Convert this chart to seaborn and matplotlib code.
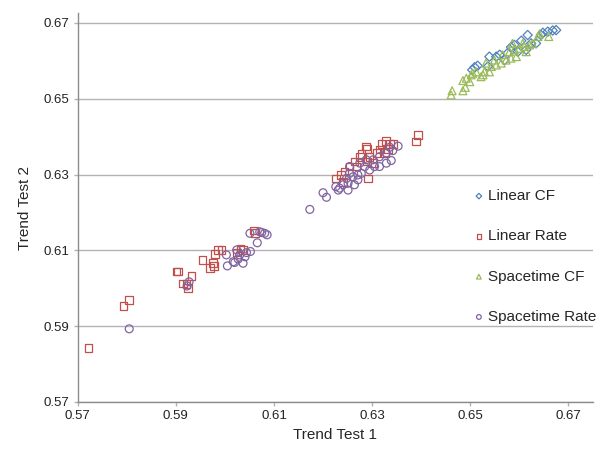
import pandas as pd
import seaborn as sns
import matplotlib.pyplot as plt

# Linear CF (diamonds)
linear_cf_x = [0.6675, 0.6668, 0.6658, 0.6648, 0.6644, 0.6617, 0.6604, 0.6590, 0.6583, 0.6634,
               0.6624, 0.6576, 0.6570, 0.6560, 0.6553, 0.6539, 0.6536, 0.6515, 0.6509, 0.6504,
               0.6597, 0.6614]
linear_cf_y = [0.6681, 0.6680, 0.6677, 0.6674, 0.6668, 0.6668, 0.6653, 0.6642, 0.6636, 0.6646,
               0.6646, 0.6620, 0.6602, 0.6616, 0.6611, 0.6611, 0.6585, 0.6587, 0.6583, 0.6576,
               0.6624, 0.6629]

# Linear Rate (squares)
linear_rate_x = [0.5722, 0.5793, 0.5804, 0.5901, 0.5905, 0.5932, 0.5914, 0.5922, 0.5925,
                 0.5954, 0.5980, 0.5986, 0.5993, 0.5976, 0.5978, 0.5969, 0.6032, 0.6037, 0.6025,
                 0.6059, 0.6061,
                 0.6393, 0.6389, 0.6328, 0.6336, 0.6342, 0.6319, 0.6288, 0.6290, 0.6315, 0.6309,
                 0.6278, 0.6275, 0.6264, 0.6290, 0.6295, 0.6302, 0.6254, 0.6244, 0.6237, 0.6227,
                 0.6292, 0.6241, 0.6268, 0.6326, 0.6332]
linear_rate_y = [0.5842, 0.5953, 0.5969, 0.6044, 0.6044, 0.6032, 0.6013, 0.6011, 0.6000,
                 0.6075, 0.6090, 0.6101, 0.6101, 0.6066, 0.6059, 0.6053, 0.6105, 0.6101, 0.6094,
                 0.6152, 0.6145,
                 0.6405, 0.6387, 0.6389, 0.6381, 0.6381, 0.6381, 0.6374, 0.6367, 0.6366, 0.6357,
                 0.6354, 0.6347, 0.6334, 0.6334, 0.6347, 0.6330, 0.6321, 0.6308, 0.6299, 0.6290,
                 0.6290, 0.6281, 0.6321, 0.6357, 0.6367]

# Spacetime CF (triangles)
spacetime_cf_x = [0.6461, 0.6463, 0.6485, 0.6490, 0.6485, 0.6492, 0.6502, 0.6505, 0.6512, 0.6522,
                  0.6526, 0.6529, 0.6539, 0.6543, 0.6553, 0.6563, 0.6573, 0.6566, 0.6583, 0.6594,
                  0.6580, 0.6590, 0.6600, 0.6610, 0.6614, 0.6621, 0.6627, 0.6638, 0.6641, 0.6660,
                  0.6499, 0.6532, 0.6549, 0.6586, 0.6607]
spacetime_cf_y = [0.6510, 0.6521, 0.6521, 0.6530, 0.6548, 0.6554, 0.6563, 0.6567, 0.6571, 0.6558,
                  0.6563, 0.6571, 0.6571, 0.6585, 0.6589, 0.6594, 0.6602, 0.6616, 0.6607, 0.6611,
                  0.6624, 0.6629, 0.6633, 0.6638, 0.6624, 0.6642, 0.6646, 0.6664, 0.6671, 0.6664,
                  0.6545, 0.6594, 0.6602, 0.6646, 0.6646]

# Spacetime Rate (circles)
spacetime_rate_x = [0.5805, 0.5927, 0.5923,
                    0.6003, 0.6005, 0.6020, 0.6027, 0.6030, 0.6041, 0.6044, 0.6052, 0.6051, 0.6066,
                    0.6075, 0.6081, 0.6086, 0.6071, 0.6024, 0.6037, 0.6017, 0.6173, 0.6200, 0.6207,
                    0.6353, 0.6339, 0.6342, 0.6329, 0.6315, 0.6302, 0.6305, 0.6295, 0.6285, 0.6278,
                    0.6271, 0.6261, 0.6254, 0.6248, 0.6251, 0.6241, 0.6234, 0.6226, 0.6264, 0.6271,
                    0.6254, 0.6288, 0.6315, 0.6329, 0.6336, 0.6251, 0.6231, 0.6275]
spacetime_rate_y = [0.5893, 0.6017, 0.6006,
                    0.6088, 0.6059, 0.6068, 0.6077, 0.6088, 0.6083, 0.6094, 0.6097, 0.6145, 0.6120,
                    0.6147, 0.6145, 0.6141, 0.6149, 0.6101, 0.6066, 0.6070, 0.6208, 0.6252, 0.6240,
                    0.6375, 0.6337, 0.6363, 0.6357, 0.6347, 0.6339, 0.6321, 0.6312, 0.6321, 0.6303,
                    0.6299, 0.6294, 0.6303, 0.6290, 0.6277, 0.6273, 0.6264, 0.6268, 0.6273, 0.6286,
                    0.6321, 0.6339, 0.6321, 0.6330, 0.6372, 0.6259, 0.6259, 0.6330]

series = [
    ("Linear CF", linear_cf_x, linear_cf_y, "D", "#4f81bd", 22),
    ("Linear Rate", linear_rate_x, linear_rate_y, "s", "#c0504d", 30),
    ("Spacetime CF", spacetime_cf_x, spacetime_cf_y, "^", "#9bbb59", 32),
    ("Spacetime Rate", spacetime_rate_x, spacetime_rate_y, "o", "#8064a2", 32),
]

sns.set_style("white")
plt.rcParams['font.family'] = ['Liberation Sans', 'DejaVu Sans']

fig = plt.figure(figsize=(6.1, 4.5), dpi=100)
ax = fig.add_axes([0.1274, 0.1067, 0.8446, 0.8643])

for name, xs, ys, marker, color, size in series:
    df = pd.DataFrame({"x": xs, "y": ys})
    sns.scatterplot(data=df, x="x", y="y", ax=ax, marker=marker, s=size,
                    facecolor="none", edgecolor=color, linewidth=0.9, label=name)

ax.set_xlim(0.57, 0.675)
ax.set_ylim(0.57, 0.6726)
ticks = [0.57, 0.59, 0.61, 0.63, 0.65, 0.67]
ax.set_xticks(ticks)
ax.set_yticks(ticks)
ax.set_xticklabels([f"{t:.2f}" for t in ticks])
ax.set_yticklabels([f"{t:.2f}" for t in ticks])
ax.yaxis.grid(True, color="#b3b3b3", linewidth=1)
ax.xaxis.grid(False)
ax.set_axisbelow(True)
for side in ["top", "right"]:
    ax.spines[side].set_visible(False)
for side in ["left", "bottom"]:
    ax.spines[side].set_color("#8c8c8c")
    ax.spines[side].set_linewidth(1)
ax.tick_params(axis="both", length=3, width=1, color="#b3b3b3", labelsize=9.5,
               labelcolor="#222222", pad=3, direction="out", bottom=True, left=True)
ax.set_xlabel("Trend Test 1", fontsize=11, labelpad=4)
ax.set_ylabel("Trend Test 2", fontsize=11, labelpad=8)

leg = ax.legend(loc="upper left", bbox_to_anchor=(0.752, 0.563), frameon=False,
                fontsize=11, labelspacing=1.72, handletextpad=0.1,
                handlelength=1.0, markerscale=0.6, borderaxespad=0)

fig.savefig("out.png", dpi=100)
